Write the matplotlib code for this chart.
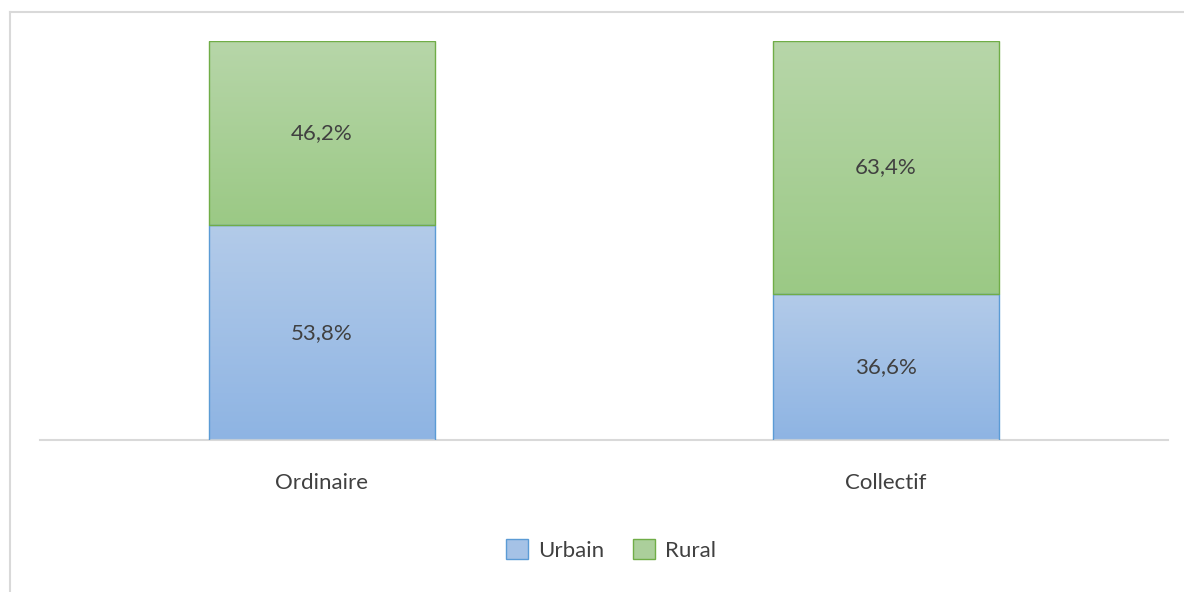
import matplotlib
matplotlib.use("Agg")
import matplotlib.pyplot as plt
import numpy as np
from matplotlib.colors import LinearSegmentedColormap
from matplotlib.lines import Line2D
from matplotlib.patches import Rectangle

categories = ["Ordinaire", "Collectif"]
urbain = [53.8, 36.6]
rural = [46.2, 63.4]
series_names = ["Urbain", "Rural"]

TEXT = "#404040"
GRID = "#D9D9D9"
BLUE_TOP, BLUE_BOT, BLUE_EDGE = "#B3CBE9", "#8EB4E3", "#5B9BD5"
GREEN_TOP, GREEN_BOT, GREEN_EDGE = "#B7D6A9", "#9BC985", "#70AD47"

plt.rcParams["font.family"] = ["Lato", "DejaVu Sans"]

fig = plt.figure(figsize=(11.84, 5.92), dpi=100)
ax = fig.add_axes([40 / 1184, 1 - 440 / 592, 1128 / 1184, 399 / 592])

x = np.arange(len(categories))
width = 0.4


def gradient_bars(bottoms, heights, top_c, bot_c, edge):
    cmap = LinearSegmentedColormap.from_list("g", [bot_c, top_c])
    bars = ax.bar(x, heights, width, bottom=bottoms, color="none",
                  edgecolor=edge, linewidth=1.0, zorder=3)
    for b in bars:
        x0, y0 = b.get_x(), b.get_y()
        w, h = b.get_width(), b.get_height()
        grad = np.linspace(0, 1, 256).reshape(-1, 1)
        im = ax.imshow(grad, cmap=cmap, origin="lower", aspect="auto",
                       extent=(x0, x0 + w, y0, y0 + h), zorder=2)
        im.set_clip_path(Rectangle((x0, y0), w, h, transform=ax.transData))
    return bars


gradient_bars([0, 0], urbain, BLUE_TOP, BLUE_BOT, BLUE_EDGE)
gradient_bars(urbain, rural, GREEN_TOP, GREEN_BOT, GREEN_EDGE)

for i in range(len(categories)):
    ax.text(x[i], urbain[i] / 2, f"{urbain[i]:.1f}%".replace(".", ","),
            ha="center", va="center", fontsize=16, color=TEXT, zorder=4)
    ax.text(x[i], urbain[i] + rural[i] / 2, f"{rural[i]:.1f}%".replace(".", ","),
            ha="center", va="center", fontsize=16, color=TEXT, zorder=4)

ax.set_xlim(-0.5, 1.5)
ax.set_ylim(0, 100)
for s in ["top", "right", "left"]:
    ax.spines[s].set_visible(False)
ax.spines["bottom"].set_color(GRID)
ax.spines["bottom"].set_linewidth(1.5)
ax.set_yticks([])
ax.set_xticks(x)
ax.set_xticklabels(categories, fontsize=16, color=TEXT)
ax.tick_params(axis="x", length=0, pad=24)

handles = [
    Rectangle((0, 0), 1, 1, facecolor="#A5C2E6", edgecolor=BLUE_EDGE, linewidth=1.0),
    Rectangle((0, 0), 1, 1, facecolor="#ABCF9B", edgecolor=GREEN_EDGE, linewidth=1.0),
]
fig.legend(handles, series_names, loc="center", bbox_to_anchor=(611 / 1184, 1 - 550 / 592),
           ncol=2, frameon=False, fontsize=16, handlelength=1.0, handleheight=1.0,
           columnspacing=1.3, handletextpad=0.45, labelcolor=TEXT)

# outer chart frame (cropped at right and bottom)
fig.add_artist(Line2D([10 / 1184, 1], [1 - 12 / 592, 1 - 12 / 592],
                      color=GRID, linewidth=1.5, transform=fig.transFigure))
fig.add_artist(Line2D([10 / 1184, 10 / 1184], [0, 1 - 12 / 592],
                      color=GRID, linewidth=1.5, transform=fig.transFigure))

fig.savefig("out.png", dpi=100)
